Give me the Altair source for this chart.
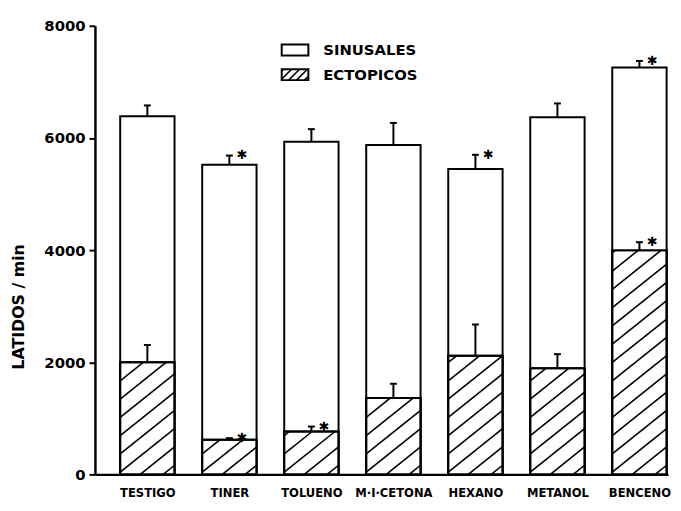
import altair as alt
import pandas as pd

# ---------------- data ----------------
categories = ["TESTIGO", "TINER", "TOLUENO", "M·I·CETONA", "HEXANO", "METANOL", "BENCENO"]
ectopicos = [1998, 617, 765, 1364, 2115, 1892, 3995]
ectopicos_err = [310, 30, 88, 252, 558, 252, 146]
sinusales = [4388, 4905, 5168, 4511, 3330, 4476, 3260]
total_err = [194, 164, 224, 393, 254, 247, 118]
sig_total = [False, True, False, False, True, False, True]
sig_ectopicos = [False, True, True, False, False, False, True]
y_ticks = [0, 2000, 4000, 6000, 8000]
legend_labels = ["SINUSALES", "ECTOPICOS"]

# ---------------- geometry helpers ----------------
W, H = 580, 454
STEP = 83.0                 # px per category
X0 = -0.639
X1 = X0 + W / STEP
YMAX = 8000
K = H / YMAX                # px per unit
BAR_PX = 55
HW = BAR_PX / 2 / STEP
CAP = 3.5 / STEP

n = len(categories)
totals = [e + s for e, s in zip(ectopicos, sinusales)]

bars = pd.DataFrame({
    "pos": list(range(n)),
    "cat": categories,
    "ect": ectopicos,
    "tot": totals,
})
bars["left"] = bars["pos"] - HW
bars["right"] = bars["pos"] + HW
bars["zero"] = 0

err_rows = []
for i in range(n):
    err_rows.append(dict(pos=i, base=totals[i], top=totals[i] + total_err[i], star=sig_total[i]))
    err_rows.append(dict(pos=i, base=ectopicos[i], top=ectopicos[i] + ectopicos_err[i], star=sig_ectopicos[i]))
errs = pd.DataFrame(err_rows)
errs["cl"] = errs["pos"] - CAP
errs["cr"] = errs["pos"] + CAP


def hatch(w, h, slope, gap):
    segs = []
    c = -slope * w + gap * 0.5
    while c < h:
        xa = max(0.0, -c / slope)
        xb = min(w, (h - c) / slope)
        if xb - xa > 0.8:
            segs.append((xa, slope * xa + c, xb, slope * xb + c))
        c += gap
    return segs


hrows = []
for i in range(n):
    for xa, ya, xb, yb in hatch(BAR_PX, ectopicos[i] * K, 0.8, 18.5):
        hrows.append(dict(x1=i - HW + xa / STEP, y1=ya / K,
                          x2=i - HW + xb / STEP, y2=yb / K))
hdf = pd.DataFrame(hrows)

# legend (pixel positions relative to the plot origin)
leg = pd.DataFrame({
    "label": legend_labels,
    "top": [19, 44],
    "bottom": [30, 55],
    "mid": [24.5, 49.5],
})
LBX0, LBX1 = 189, 216
lrows = []
for xa, ya, xb, yb in hatch(LBX1 - LBX0, 11, 1.0, 8):
    lrows.append(dict(x1=LBX0 + xa, y1=55 - ya, x2=LBX0 + xb, y2=55 - yb))
ldf = pd.DataFrame(lrows)

# ---------------- scales / axes ----------------
xs = alt.Scale(domain=[X0, X1], nice=False, zero=False)
ys = alt.Scale(domain=[0, YMAX], nice=False)

label_expr = "[" + ",".join("'" + c + "'" for c in categories) + "][datum.value]"

x_axis = alt.Axis(
    values=list(range(n)), labelExpr=label_expr, ticks=False, grid=False,
    domainColor="black", domainWidth=2.5, title=None,
    labelFont="DejaVu Sans Condensed, Liberation Sans, sans-serif",
    labelFontSize=13, labelFontWeight="bold", labelColor="black",
    labelPadding=12, labelFlush=False, labelOverlap=False, labelBound=False,
)
y_axis = alt.Axis(
    values=y_ticks, format="d", grid=False, tickSize=6, tickWidth=2, tickColor="black",
    domainColor="black", domainWidth=2.5,
    labelFont="DejaVu Sans", labelFontSize=15, labelFontWeight="bold",
    labelColor="black", labelPadding=4,
    title="LATIDOS / min", titleFont="DejaVu Sans", titleFontSize=16,
    titleFontWeight="bold", titleColor="black", titleAngle=270,
    titleX=-77, titleY=284, titleAlign="center", titleBaseline="middle",
)


def X(field):
    return alt.X(field, scale=xs, axis=x_axis)


def Y(field):
    return alt.Y(field, scale=ys, axis=y_axis)


# ---------------- layers ----------------
total_bars = alt.Chart(bars).mark_rect(fill="white", stroke="black", strokeWidth=2).encode(
    x=X("left:Q"), x2="right:Q", y=Y("tot:Q"), y2="zero:Q",
)

ect_bars = alt.Chart(bars).mark_rect(fill="white", stroke="black", strokeWidth=2).encode(
    x=X("left:Q"), x2="right:Q", y=Y("ect:Q"), y2="zero:Q",
)

hatch_lines = alt.Chart(hdf).mark_rule(color="black", strokeWidth=1.6).encode(
    x=X("x1:Q"), x2="x2:Q", y=Y("y1:Q"), y2="y2:Q",
)

ect_outline = alt.Chart(bars).mark_rect(fill=None, stroke="black", strokeWidth=2).encode(
    x=X("left:Q"), x2="right:Q", y=Y("ect:Q"), y2="zero:Q",
)

stems = alt.Chart(errs).mark_rule(color="black", strokeWidth=2).encode(
    x=X("pos:Q"), y=Y("base:Q"), y2="top:Q",
)

caps = alt.Chart(errs).mark_rule(color="black", strokeWidth=2).encode(
    x=X("cl:Q"), x2="cr:Q", y=Y("top:Q"),
)

stars = alt.Chart(errs).transform_filter("datum.star").mark_text(
    text="✱", font="DejaVu Sans", fontSize=13, color="black",
    dx=13, baseline="middle", align="center",
).encode(
    x=X("pos:Q"), y=Y("top:Q"),
)

leg_boxes = alt.Chart(leg).mark_rect(fill="white", stroke="black", strokeWidth=2).encode(
    x=alt.value(LBX0), x2=alt.value(LBX1),
    y=alt.Y("top:Q", scale=None), y2="bottom:Q",
)

leg_hatch = alt.Chart(ldf).mark_rule(color="black", strokeWidth=1.5).encode(
    x=alt.X("x1:Q", scale=None), x2="x2:Q",
    y=alt.Y("y1:Q", scale=None), y2="y2:Q",
)

leg_text = alt.Chart(leg).mark_text(
    font="DejaVu Sans", fontSize=15, fontWeight="bold", color="black",
    align="left", baseline="middle",
).encode(
    x=alt.value(231), y=alt.Y("mid:Q", scale=None), text="label:N",
)

chart = alt.layer(
    total_bars, ect_bars, hatch_lines, ect_outline, stems, caps, stars,
    leg_boxes, leg_hatch, leg_text,
).properties(
    width=W, height=H,
    autosize=alt.AutoSizeParams(type="none"),
    padding={"left": 88, "top": 15, "right": 5, "bottom": 30},
    background="white",
).configure_view(stroke=None)

chart.save("out.html", embed_options={"renderer": "svg", "actions": False})
